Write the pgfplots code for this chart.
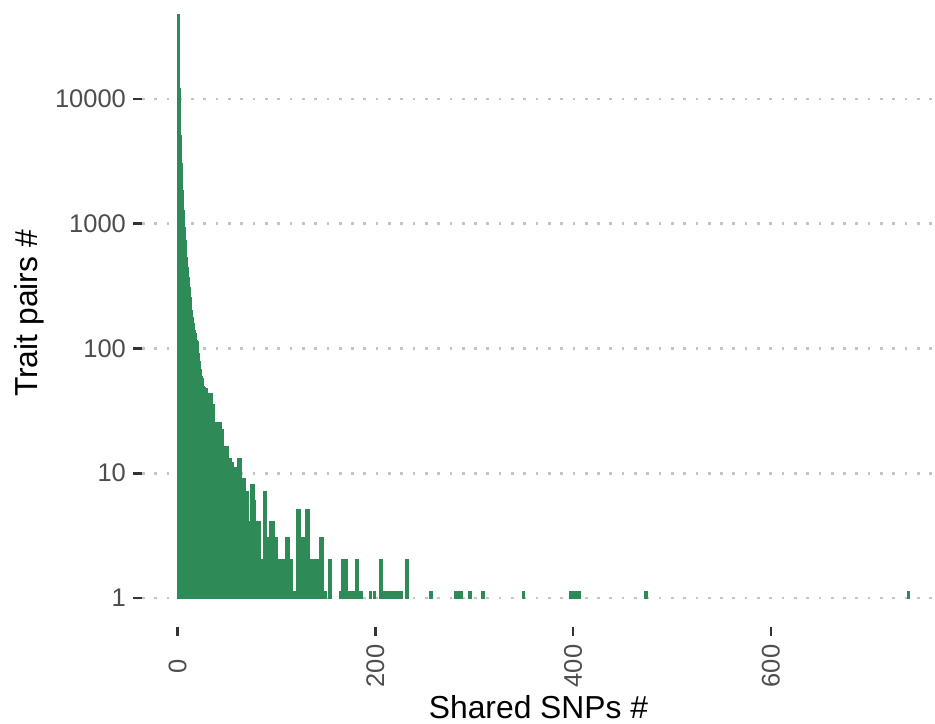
\documentclass[border=0pt]{standalone}
\usepackage{fontspec}
\setmainfont{Liberation Sans}
\usepackage{pgfplots}
\usepackage{pgfplotstable}
\pgfplotsset{compat=1.18}
\definecolor{seagreen}{HTML}{2E8B57}
\definecolor{tickgray}{HTML}{333333}
\definecolor{labgray}{HTML}{4D4D4D}
\definecolor{gridgray}{HTML}{C4C4C4}
\pgfplotstableread{
k c
1 46900
2 11970
3 5020
4 2998
5 1822
6 1260
7 925
8 724
9 531
10 442
11 367
12 305
13 254
14 199
15 176
16 156
17 137
18 130
19 114
20 111
21 90
22 78
23 67
24 59
25 57
26 49
27 48
28 47
29 47
30 43
31 43
32 43
33 43
34 43
35 35
36 35
37 25
38 25
39 25
40 25
41 25
42 25
43 25
44 22
45 22
46 15
47 16
48 16
49 16
50 16
51 13
52 13
53 13
54 12
55 12
56 11
57 11
58 11
59 6
60 6
61 6
62 13
63 13
64 7
65 7
66 9
67 9
68 7
69 7
70 7
71 4
72 4
73 4
74 4
75 8
76 8
77 6
78 4
79 4
80 4
81 4
82 4
83 4
84 2
85 2
86 2
87 2
88 7
89 7
90 3
91 3
92 2
93 3
94 4
95 4
96 4
97 4
98 3
99 3
100 3
101 2
102 2
103 2
104 2
105 2
106 2
107 2
108 2
109 2
110 3
111 3
112 3
113 2
114 2
115 2
116 1.1
117 1.1
118 1.1
119 1.1
120 1.1
121 1.1
122 5
123 5
124 1.1
125 1.1
126 1.1
127 3
128 3
129 3
130 3
131 5
132 5
133 2
134 2
135 2
136 2
137 2
138 2
139 2
140 2
141 2
142 2
143 2
144 2
145 3
146 3
149 1.1
154 2
165 1.1
167 2
168 2
169 2
170 2
171 2
174 1.1
175 1.1
176 1.1
177 1.1
178 1.1
181 2
182 2
185 1.1
186 1.1
195 1.1
199 1.1
206 2
210 1.1
214 1.1
218 1.1
222 1.1
226 1.1
232 2
256 1.1
281 1.1
283 1.1
285 1.1
287 1.1
296 1.1
309 1.1
350 1.1
398 1.1
402 1.1
404 1.1
406 1.1
474 1.1
739 1.1
}\hist
\begin{document}
\begin{tikzpicture}
\begin{axis}[
  name=ax,
  scale only axis,
  width=396.5pt, height=313.5pt,
  xmin=-36, xmax=766,
  ymode=log, ymin=0.584, ymax=62200,
  log origin y=0,
  axis line style={draw=none},
  tick align=outside,
  xtick pos=bottom, ytick pos=left,
  major tick length=4.5pt,
  tick style={draw=tickgray, line width=1.35pt},
  xtick={0,200,400,600},
  ytick={1,10,100,1000,10000},
  yticklabels={1,10,100,1000,10000},
  yminorticks=false, xminorticks=false,
  ymajorgrids=true,
  major grid style={gridgray, line width=1.35pt, dash pattern=on 1.35pt off 4.8pt},
  /pgf/number format/assume math mode=true,
  tick label style={font=\fontsize{12.75}{15}\selectfont, text=labgray},
  xticklabel style={rotate=90, anchor=center, xshift=-15pt},
  yticklabel style={anchor=east},
  xlabel={Shared SNPs \#}, ylabel={Trait pairs \#},
  every axis x label/.style={at={(axis description cs:0.5,-0.1276)}, anchor=center, font=\fontsize{15.9}{18}\selectfont},
  every axis y label/.style={at={(axis description cs:-0.1425,0.5)}, anchor=center, rotate=90, font=\fontsize{15.9}{18}\selectfont},
]
\addplot[ybar, bar width=1, bar shift=0pt, fill=seagreen, draw=seagreen, line width=1.3pt] table[x=k,y=c]{\hist};
\end{axis}
\pgfresetboundingbox
\path[use as bounding box] ([xshift=-71pt,yshift=-48pt]ax.south west) rectangle (ax.north east);
\end{tikzpicture}
\end{document}
